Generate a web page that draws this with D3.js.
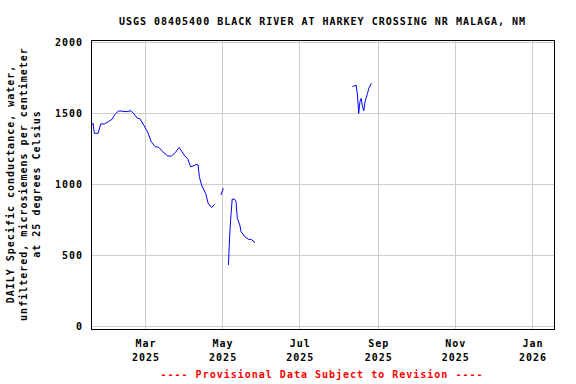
<!DOCTYPE html>
<html>
<head>
<meta charset="utf-8">
<script src="https://cdn.jsdelivr.net/npm/d3@7"></script>
<style>
  html, body { margin: 0; padding: 0; background: #ffffff; }
  svg { display: block; }
  text { font-family: "DejaVu Sans Mono", "Liberation Mono", monospace; font-weight: bold; font-size: 10px; letter-spacing: 1px; }
</style>
</head>
<body>
<svg id="chart" width="576" height="384"></svg>
<script>
// ---- data ----
const titleText = "USGS 08405400 BLACK RIVER AT HARKEY CROSSING NR MALAGA, NM";
const yLabelLines = [
  "DAILY Specific conductance, water,",
  "unfiltered, microsiemens per centimeter",
  "at 25 degrees Celsius"
];
const footerText = "---- Provisional Data Subject to Revision ----";

const yTicks = [0, 500, 1000, 1500, 2000];
const xTickDates = ["2025-03-01", "2025-05-01", "2025-07-01", "2025-09-01", "2025-11-01", "2026-01-01"];
const xTickMonths = ["Mar", "May", "Jul", "Sep", "Nov", "Jan"];
const xTickYears = ["2025", "2025", "2025", "2025", "2025", "2026"];

const obsDates = [
  "2025-01-18","2025-01-19","2025-01-20","2025-01-23","2025-01-25","2025-01-28","2025-01-31",
  "2025-02-03","2025-02-05","2025-02-08","2025-02-10","2025-02-14","2025-02-18","2025-02-21",
  "2025-02-23","2025-02-25","2025-02-28","2025-03-03","2025-03-06","2025-03-09","2025-03-12",
  "2025-03-15","2025-03-19","2025-03-22","2025-03-25","2025-03-28","2025-03-30","2025-04-01",
  "2025-04-04","2025-04-06","2025-04-08","2025-04-11","2025-04-12","2025-04-13","2025-04-15",
  "2025-04-18","2025-04-20","2025-04-22","2025-04-23","2025-04-25",
  "2025-04-27",
  "2025-04-30","2025-05-02",
  "2025-05-04",
  "2025-05-06","2025-05-07","2025-05-08","2025-05-09","2025-05-11","2025-05-12","2025-05-13",
  "2025-05-15","2025-05-16","2025-05-19","2025-05-22","2025-05-24","2025-05-27",
  "2025-06-30",
  "2025-08-12","2025-08-15","2025-08-16","2025-08-17","2025-08-18","2025-08-19","2025-08-20",
  "2025-08-21","2025-08-22","2025-08-24","2025-08-25","2025-08-27"
];
const obsValues = [
  1417,1429,1359,1359,1425,1425,1441,
  1458,1488,1516,1516,1511,1518,1488,
  1465,1462,1417,1370,1300,1265,1260,
  1230,1199,1199,1223,1260,1234,1206,
  1176,1124,1129,1141,1136,1053,988,
  936,866,842,838,859,
  null,
  925,972,
  null,
  432,643,784,896,894,877,760,
  713,666,631,612,612,589,
  null,
  1687,1699,1629,1500,1582,1605,1546,
  1518,1582,1641,1676,1711
];

// ---- layout ----
const svg = d3.select("#chart");
const plot = { left: 91, right: 554, top: 40, bottom: 329 };

const parse = d3.utcParse("%Y-%m-%d");
const x = d3.scaleUtc()
  .domain([new Date(Date.UTC(2025, 0, 17, 8)), new Date(Date.UTC(2026, 0, 18, 10))])
  .range([plot.left, plot.right]);
const y = d3.scaleLinear()
  .domain([-19, 2016])
  .range([plot.bottom, plot.top]);

// gridlines via axes
const yGrid = d3.axisLeft(y).tickValues(yTicks).tickSize(-(plot.right - plot.left)).tickFormat("");
svg.append("g").attr("transform", `translate(${plot.left},0)`).call(yGrid)
  .call(g => g.select(".domain").remove())
  .call(g => g.selectAll("line").attr("stroke", "#cccccc").attr("shape-rendering", "crispEdges"));

const xTickVals = xTickDates.map(parse);
const xGrid = d3.axisBottom(x).tickValues(xTickVals).tickSize(-(plot.bottom - plot.top)).tickFormat("");
svg.append("g").attr("transform", `translate(0,${plot.bottom})`).call(xGrid)
  .call(g => g.select(".domain").remove())
  .call(g => g.selectAll("line").attr("stroke", "#cccccc").attr("shape-rendering", "crispEdges"));

// frame
svg.append("rect")
  .attr("x", plot.left + 0.5).attr("y", plot.top + 0.5)
  .attr("width", plot.right - plot.left).attr("height", plot.bottom - plot.top)
  .attr("fill", "none").attr("stroke", "#000").attr("stroke-width", 1)
  .attr("shape-rendering", "crispEdges");

// y tick labels
const yAxis = d3.axisLeft(y).tickValues(yTicks).tickSize(0).tickPadding(8).tickFormat(d3.format("d"));
svg.append("g").attr("transform", `translate(${plot.left},0)`).call(yAxis)
  .call(g => g.select(".domain").remove())
  .call(g => g.selectAll("text")
    .attr("fill", "#000")
    .attr("dy", "0.36em")
    .style("font-family", "DejaVu Sans Mono")
    .style("font-size", "10px")
    .style("font-weight", "bold"));

// x tick labels (two lines)
const xAxis = d3.axisBottom(x).tickValues(xTickVals).tickSize(0).tickFormat("");
const xg = svg.append("g").attr("transform", `translate(0,${plot.bottom})`).call(xAxis);
xg.select(".domain").remove();
xg.selectAll(".tick").each(function(d, i) {
  const t = d3.select(this).append("text")
    .attr("fill", "#000")
    .attr("text-anchor", "middle")
    .style("font-family", "DejaVu Sans Mono")
    .style("font-size", "10px")
    .style("font-weight", "bold");
  t.append("tspan").attr("x", 0.5).attr("y", 18).text(xTickMonths[i]);
  t.append("tspan").attr("x", 0.5).attr("y", 31.5).text(xTickYears[i]);
});

// data line
const data = obsDates.map((d, i) => ({ date: parse(d), value: obsValues[i] }));
const line = d3.line()
  .defined(d => d.value != null)
  .x(d => x(d.date))
  .y(d => y(d.value));
svg.append("path")
  .datum(data)
  .attr("d", line)
  .attr("fill", "none")
  .attr("stroke", "#0000ff")
  .attr("stroke-width", 1);

// title
svg.append("text")
  .attr("x", 322.5).attr("y", 25)
  .attr("text-anchor", "middle")
  .attr("fill", "#000")
  .text(titleText);

// y label (rotated, three lines)
const lineX = [13.5, 26.5, 40];
yLabelLines.forEach((s, i) => {
  svg.append("text")
    .attr("transform", `translate(${lineX[i]},184) rotate(-90)`)
    .attr("text-anchor", "middle")
    .attr("fill", "#000")
    .text(s);
});

// footer
svg.append("text")
  .attr("x", 322).attr("y", 377.5)
  .attr("text-anchor", "middle")
  .attr("fill", "#ff0000")
  .text(footerText);
</script>
</body>
</html>
